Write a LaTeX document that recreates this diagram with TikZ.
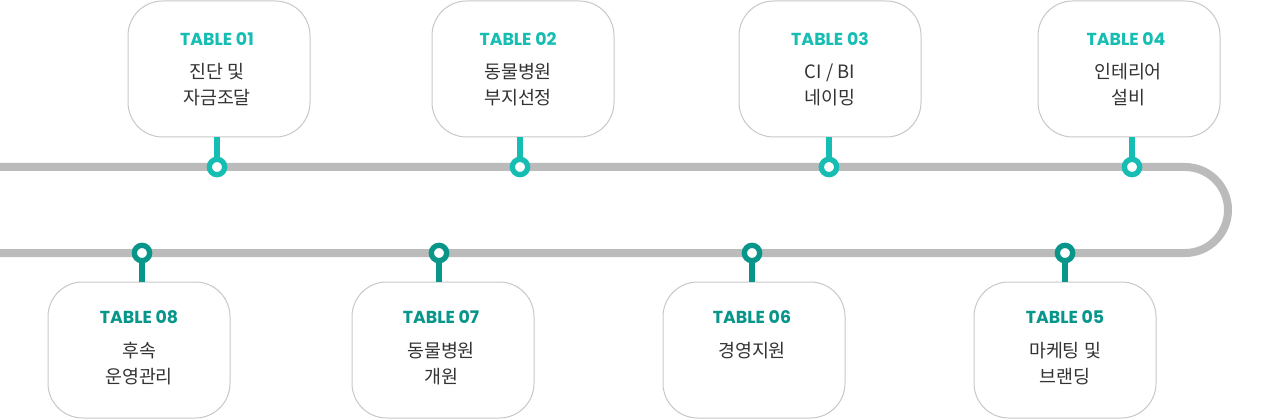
\documentclass[tikz,border=0pt]{standalone}
\usepackage{fontspec}
\setmainfont{Noto Sans CJK KR}
\newfontfamily\tagfont{Poppins}
\definecolor{trackgray}{HTML}{BBBBBB}
\definecolor{tealtop}{HTML}{16BDB2}
\definecolor{tealbot}{HTML}{08968A}
\definecolor{boxline}{HTML}{C8C8C8}
\definecolor{bodytext}{HTML}{333333}
\begin{document}
\begin{tikzpicture}[x=0.75pt, y=-0.75pt,
  box/.style={draw=boxline, line width=0.75pt, fill=white, rounded corners=26pt,
    minimum width=136.5pt, minimum height=102pt, inner sep=0pt},
  title/.style={font=\tagfont\fontsize{13}{15}\selectfont\bfseries, inner sep=0pt},
  body/.style={font=\fontsize{13.8}{19.5}\selectfont, text=bodytext, align=center, inner sep=0pt},
  pin/.style={circle, draw, fill=white, line width=4pt, minimum size=11.5pt, inner sep=0pt},
  stem/.style={line width=4.8pt, shorten >=-2pt}]
\useasboundingbox (0,0) rectangle (1280,420);

% Track
\draw[trackgray, line width=6pt] (0,167) -- (1185,167) arc (-90:90:43) -- (0,253);

% Upper boxes
\node[box] (b1) at (219,69) {};
\node[box] (b2) at (523,69) {};
\node[box] (b3) at (830,69) {};
\node[box] (b4) at (1129,69) {};

\node[title, text=tealtop] (t1) at (217,39) {TABLE 01};
\node[title, text=tealtop] (t2) at (518,39) {TABLE 02};
\node[title, text=tealtop] (t3) at (830,39) {TABLE 03};
\node[title, text=tealtop] (t4) at (1126,39) {TABLE 04};

\node[body] (l1) at (217,85) {진단 및\\자금조달};
\node[body] (l2) at (518,85) {동물병원\\부지선정};
\node[body] (l3) at (830,85) {CI / BI\\네이밍};
\node[body] (l4) at (1128,85) {인테리어\\설비};

% Lower boxes
\node[box] (b8) at (139,350) {};
\node[box] (b7) at (443,350) {};
\node[box] (b6) at (754,350) {};
\node[box] (b5) at (1065,350) {};

\node[title, text=tealbot] (t8) at (139,317) {TABLE 08};
\node[title, text=tealbot] (t7) at (441,317) {TABLE 07};
\node[title, text=tealbot] (t6) at (752,317) {TABLE 06};
\node[title, text=tealbot] (t5) at (1065,317) {TABLE 05};

\node[body] (l8) at (139,364) {후속\\운영관리};
\node[body] (l7) at (441,364) {동물병원\\개원};
\node[body] (l6) at (752,351) {경영지원};
\node[body] (l5) at (1065,364) {마케팅 및\\브랜딩};

% Pins
\node[pin, draw=tealtop] (p1) at (217,167) {};
\node[pin, draw=tealtop] (p2) at (520,167) {};
\node[pin, draw=tealtop] (p3) at (829,167) {};
\node[pin, draw=tealtop] (p4) at (1132,167) {};
\node[pin, draw=tealbot] (p8) at (142,253) {};
\node[pin, draw=tealbot] (p7) at (439,253) {};
\node[pin, draw=tealbot] (p6) at (752,253) {};
\node[pin, draw=tealbot] (p5) at (1065,253) {};

\draw[stem, tealtop] (p1 |- b1.south) -- (p1.north);
\draw[stem, tealtop] (p2 |- b2.south) -- (p2.north);
\draw[stem, tealtop] (p3 |- b3.south) -- (p3.north);
\draw[stem, tealtop] (p4 |- b4.south) -- (p4.north);
\draw[stem, tealbot] (p8 |- b8.north) -- (p8.south);
\draw[stem, tealbot] (p7 |- b7.north) -- (p7.south);
\draw[stem, tealbot] (p6 |- b6.north) -- (p6.south);
\draw[stem, tealbot] (p5 |- b5.north) -- (p5.south);
\end{tikzpicture}
\end{document}
